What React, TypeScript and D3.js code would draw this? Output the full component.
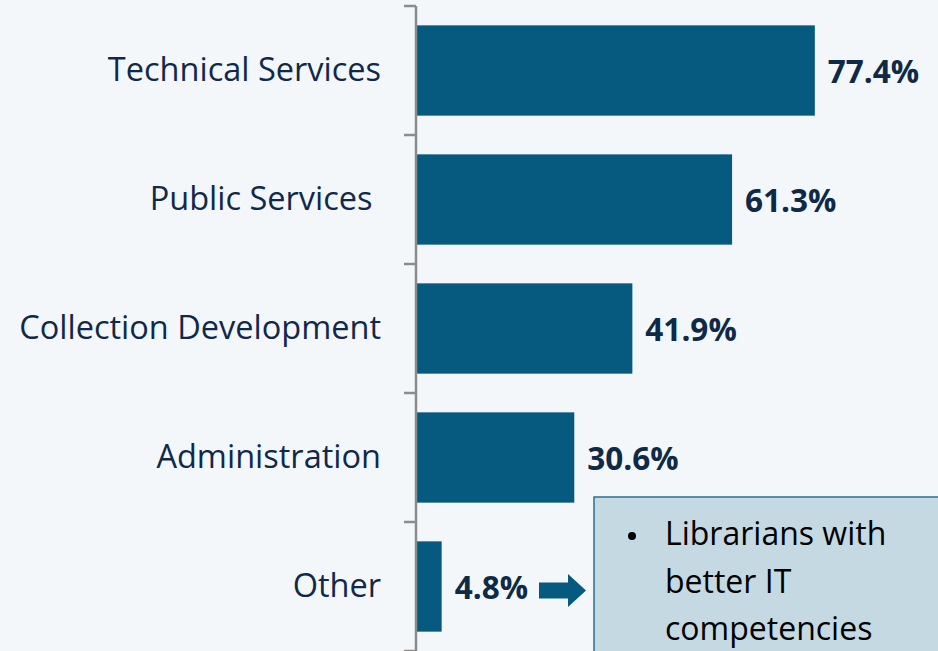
import * as d3 from "d3";
import React from "react";

const categories = ["Technical Services", "Public Services ", "Collection Development", "Administration", "Other"];
const values = [77.4, 61.3, 41.9, 30.6, 4.8];
const calloutLines = ["Librarians with", "better IT", "competencies"];

const W = 938;
const H = 651;
const FONT = "'Open Sans', sans-serif";

const App = () => {
    const xScale = d3.scaleLinear().domain([0, 100]).range([417, 931]);
    const yScale = d3.scaleBand()
        .domain(categories)
        .range([6, 651])
        .paddingInner(0.3)
        .paddingOuter(0.15);

    const step = yScale.step();
    const ticks = d3.range(categories.length + 1).map(i => 6 + i * step);
    const mid = (c: string) => yScale(c)! + yScale.bandwidth() / 2;

    // arrow next to the last label
    const ay = mid(categories[categories.length - 1]) + 4;

    return (
        <div style={{ position: "absolute", left: 0, top: 0 }}>
            <svg width={W} height={H} style={{ display: "block", background: "#f4f7fa" }}>
                {/* bars */}
                {categories.map((c, i) => (
                    <rect key={c}
                        x={xScale(0)}
                        y={yScale(c)}
                        width={xScale(values[i]) - xScale(0)}
                        height={yScale.bandwidth()}
                        fill="#065a80" />
                ))}

                {/* axis */}
                <line x1={416} x2={416} y1={6} y2={H} stroke="#8c8c8c" strokeWidth={2.5} />
                {ticks.map(t => (
                    <line key={t} x1={404} x2={416} y1={t} y2={t} stroke="#8c8c8c" strokeWidth={2.5} />
                ))}

                {/* category labels */}
                {categories.map(c => (
                    <text key={c}
                        x={381}
                        y={mid(c) + 10}
                        textAnchor="end"
                        fontFamily={FONT}
                        fontSize={32.5}
                        fill="#10294a"
                        style={{ whiteSpace: "pre" }}>
                        {c}
                    </text>
                ))}

                {/* value labels */}
                {categories.map((c, i) => (
                    <text key={c}
                        x={xScale(values[i]) + 13}
                        y={mid(c) + 12}
                        fontFamily={FONT}
                        fontWeight="bold"
                        fontSize={31.5}
                        fill="#0e2a47">
                        {values[i].toFixed(1)}%
                    </text>
                ))}

                {/* arrow */}
                <path
                    d={`M539,${ay - 8} L568,${ay - 8} L568,${ay - 16.5} L586,${ay} L568,${ay + 16.5} L568,${ay + 8} L539,${ay + 8} Z`}
                    fill="#065a80" />

                {/* callout box */}
                <rect x={594} y={497} width={360} height={170} fill="#c5d9e2" stroke="#2b6d91" strokeWidth={1.5} />
                <circle cx={632} cy={536} r={4} fill="#000" />
                {calloutLines.map((l, i) => (
                    <text key={l}
                        x={665}
                        y={545 + i * 47.5}
                        fontFamily={FONT}
                        fontSize={32}
                        fill="#000">
                        {l}
                    </text>
                ))}
            </svg>
        </div>
    );
};

export default App;
